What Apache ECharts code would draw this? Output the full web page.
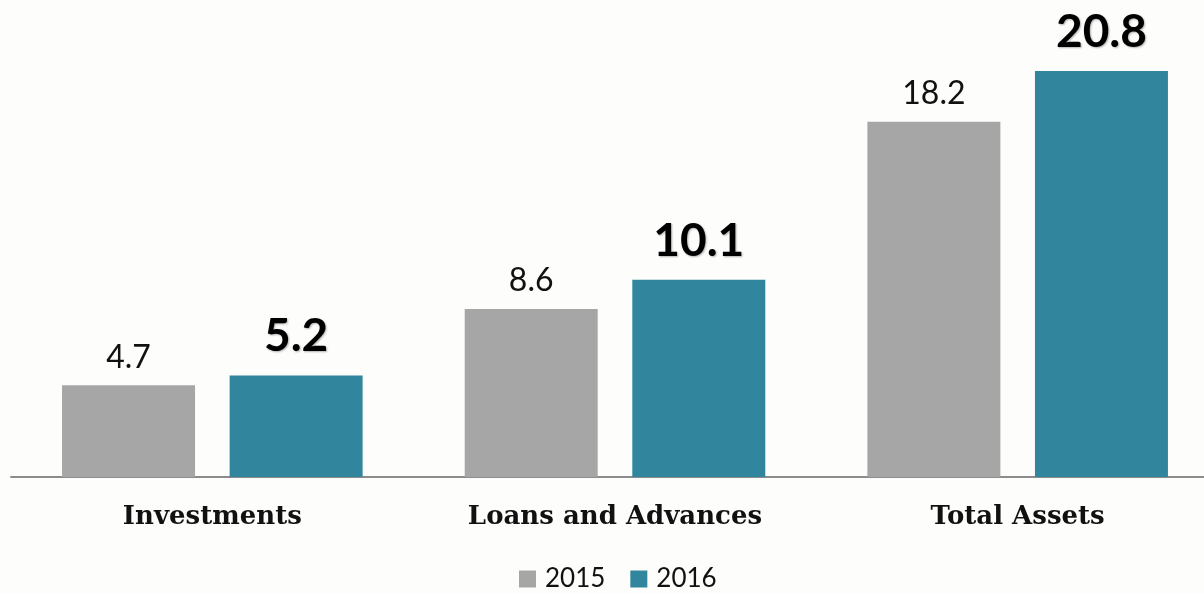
<!DOCTYPE html>
<html>
<head>
<meta charset="utf-8">
<script src="https://cdn.jsdelivr.net/npm/echarts@6/dist/echarts.min.js"></script>
<style>
  html, body { margin: 0; padding: 0; background: #fdfdfb; overflow: hidden; }
  #chart { width: 1219px; height: 594px; }
</style>
</head>
<body>
<div id="chart"></div>
<script>
let categories = ['Investments', 'Loans and Advances', 'Total Assets'];
let values2015 = [4.7, 8.6, 18.2];
let values2016 = [5.2, 10.1, 20.8];

let chart = echarts.init(document.getElementById('chart'));

let option = {
  backgroundColor: '#fdfdfb',
  animation: false,
  grid: { left: 11, right: 0, top: 8.5, bottom: 117 },
  legend: {
    top: 561,
    left: 514,
    itemWidth: 17,
    itemHeight: 17,
    itemGap: 25,
    icon: 'rect',
    textStyle: { fontFamily: 'Lato', fontSize: 26, color: '#111', padding: [0, 0, 0, 4] },
    data: ['2015', '2016']
  },
  xAxis: {
    type: 'category',
    data: categories,
    axisTick: { show: false },
    axisLine: { lineStyle: { color: '#8c8c8c', width: 2 } },
    axisLabel: {
      margin: 27,
      fontFamily: 'DejaVu Serif',
      fontWeight: 'bold',
      fontSize: 26,
      color: '#111'
    }
  },
  yAxis: { type: 'value', min: 0, max: 24, show: false },
  series: [
    {
      name: '2015',
      type: 'bar',
      data: values2015,
      barWidth: 133,
      barGap: '26%',
      itemStyle: { color: '#a6a6a6' },
      label: {
        show: true,
        position: 'top',
        distance: 12,
        fontFamily: 'Lato',
        fontSize: 32,
        color: '#111'
      }
    },
    {
      name: '2016',
      type: 'bar',
      data: values2016,
      barWidth: 133,
      itemStyle: { color: '#31869e' },
      label: {
        show: true,
        position: 'top',
        distance: 16,
        fontFamily: 'Lato',
        fontWeight: 'bold',
        fontSize: 46,
        color: '#000',
        textShadowColor: 'rgba(0,0,0,0.3)',
        textShadowBlur: 2,
        textShadowOffsetX: 1,
        textShadowOffsetY: 1
      }
    }
  ]
};

chart.setOption(option);
</script>
</body>
</html>
